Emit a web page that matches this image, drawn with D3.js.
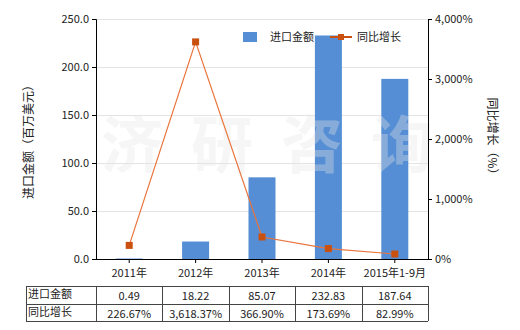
<!DOCTYPE html>
<html>
<head>
<meta charset="utf-8">
<script src="https://cdn.jsdelivr.net/npm/d3@7"></script>
<style>
  body { margin: 0; background: #fff; }
  text { font-family: "Noto Sans CJK SC", "Noto Sans", sans-serif; font-size: 11px; fill: #222; }
</style>
</head>
<body>
<div id="chart"></div>
<script>
var categories = ["2011年", "2012年", "2013年", "2014年", "2015年1-9月"];
var importValues = [0.49, 18.22, 85.07, 232.83, 187.64];
var growthValues = [226.67, 3618.37, 366.90, 173.69, 82.99];
var importLabels = ["0.49", "18.22", "85.07", "232.83", "187.64"];
var growthLabels = ["226.67%", "3,618.37%", "366.90%", "173.69%", "82.99%"];
var leftTicks = [0, 50, 100, 150, 200, 250];
var rightTicks = [0, 1000, 2000, 3000, 4000];

var width = 520, height = 330;
var plotLeft = 96, plotRight = 428, plotTop = 19, plotBottom = 259;
var barColor = "#558ed5", lineColor = "#e9743c", markColor = "#c9500f";

var svg = d3.select("#chart").append("svg")
            .attr("width", width)
            .attr("height", height);

var x = d3.scaleBand().domain(categories).range([plotLeft, plotRight]);
var y = d3.scaleLinear().domain([0, 250]).range([plotBottom, plotTop]);
var y2 = d3.scaleLinear().domain([0, 4000]).range([plotBottom, plotTop]);

// gridlines
svg.append("g").selectAll("line")
   .data(leftTicks.slice(1))
   .enter().append("line")
   .attr("x1", plotLeft).attr("x2", plotRight)
   .attr("y1", function(d) { return y(d) + 0.5; })
   .attr("y2", function(d) { return y(d) + 0.5; })
   .attr("stroke", "#e4e4e4");

// bars
var bw = 27;
svg.append("g").selectAll("rect")
   .data(importValues)
   .enter().append("rect")
   .attr("x", function(d, i) { return x(categories[i]) + x.bandwidth() / 2 - bw / 2; })
   .attr("y", function(d) { return y(d); })
   .attr("width", bw)
   .attr("height", function(d) { return plotBottom - y(d); })
   .attr("fill", barColor);

// watermark, drawn over the bars
svg.append("g").selectAll("text")
   .data(["济", "研", "咨", "询"])
   .enter().append("text")
   .attr("x", function(d, i) { return 132 + i * 90; })
   .attr("y", 168)
   .attr("text-anchor", "middle")
   .style("font-size", "62px").style("font-weight", "bold")
   .style("fill", "#e6e6e6").style("opacity", 0.35)
   .text(function(d) { return d; });

// line
var line = d3.line()
   .x(function(d, i) { return x(categories[i]) + x.bandwidth() / 2; })
   .y(function(d) { return y2(d); });

svg.append("path")
   .datum(growthValues)
   .attr("d", line)
   .attr("fill", "none")
   .attr("stroke", lineColor)
   .attr("stroke-width", 1.2);

svg.append("g").selectAll("rect")
   .data(growthValues)
   .enter().append("rect")
   .attr("x", function(d, i) { return x(categories[i]) + x.bandwidth() / 2 - 3.5; })
   .attr("y", function(d) { return y2(d) - 3.5; })
   .attr("width", 7).attr("height", 7)
   .attr("fill", markColor);

// axes
var leftAxis = svg.append("g")
   .attr("transform", "translate(" + plotLeft + ",0)")
   .call(d3.axisLeft(y).tickValues(leftTicks).tickFormat(d3.format(".1f")).tickSize(4));

var rightAxis = svg.append("g")
   .attr("transform", "translate(" + plotRight + ",0)")
   .call(d3.axisRight(y2).tickValues(rightTicks).tickFormat(function(d) { return d3.format(",")(d) + "%"; }).tickSize(4));

var bottomAxis = svg.append("g")
   .attr("transform", "translate(0," + plotBottom + ")")
   .call(d3.axisBottom(x).tickSize(4).tickPadding(6));

[leftAxis, rightAxis, bottomAxis].forEach(function(a) {
  a.selectAll("path, line").attr("stroke", "#000");
  a.selectAll("text").style("font-size", "11px").style("fill", "#222")
   .style("font-family", '"Noto Sans CJK SC", sans-serif');
});
bottomAxis.select(".domain").attr("d", "M" + plotLeft + ",0.5H" + plotRight);

// axis titles
svg.append("text")
   .attr("transform", "translate(33," + ((plotTop + plotBottom) / 2) + ") rotate(-90)")
   .attr("text-anchor", "middle")
   .style("font-size", "12px")
   .text("进口金额（百万美元）");

svg.append("text")
   .attr("transform", "translate(488," + ((plotTop + plotBottom) / 2) + ") rotate(90)")
   .attr("text-anchor", "middle")
   .style("font-size", "12px")
   .text("同比增长（%）");

// legend
svg.append("rect").attr("x", 243).attr("y", 32).attr("width", 14).attr("height", 10).attr("fill", barColor);
svg.append("text").attr("x", 270).attr("y", 41).text("进口金额");
svg.append("line").attr("x1", 330).attr("x2", 352).attr("y1", 37).attr("y2", 37)
   .attr("stroke", markColor).attr("stroke-width", 2);
svg.append("rect").attr("x", 338).attr("y", 34).attr("width", 6).attr("height", 6).attr("fill", markColor);
svg.append("text").attr("x", 357).attr("y", 41).text("同比增长");

// data table
var tLeft = 26, rowY = [286, 304, 321];
var table = svg.append("g");
var cols = [tLeft].concat(categories.map(function(c) { return x(c); })).concat([plotRight]);
table.selectAll(".hl").data(rowY).enter().append("line")
   .attr("x1", tLeft).attr("x2", plotRight)
   .attr("y1", function(d) { return d + 0.5; }).attr("y2", function(d) { return d + 0.5; })
   .attr("stroke", "#444");
table.selectAll(".vl").data(cols).enter().append("line")
   .attr("x1", function(d) { return Math.round(d) + 0.5; }).attr("x2", function(d) { return Math.round(d) + 0.5; })
   .attr("y1", rowY[0]).attr("y2", rowY[2])
   .attr("stroke", "#444");

var rows = [["进口金额", importLabels], ["同比增长", growthLabels]];
rows.forEach(function(r, ri) {
  var cy = (rowY[ri] + rowY[ri + 1]) / 2 + 4;
  table.append("text").attr("x", tLeft + 2).attr("y", cy - 1).text(r[0]);
  table.selectAll(".v" + ri).data(r[1]).enter().append("text")
     .attr("x", function(d, i) { return x(categories[i]) + x.bandwidth() / 2; })
     .attr("y", cy + 1)
     .attr("text-anchor", "middle")
     .text(function(d) { return d; });
});
</script>
</body>
</html>
